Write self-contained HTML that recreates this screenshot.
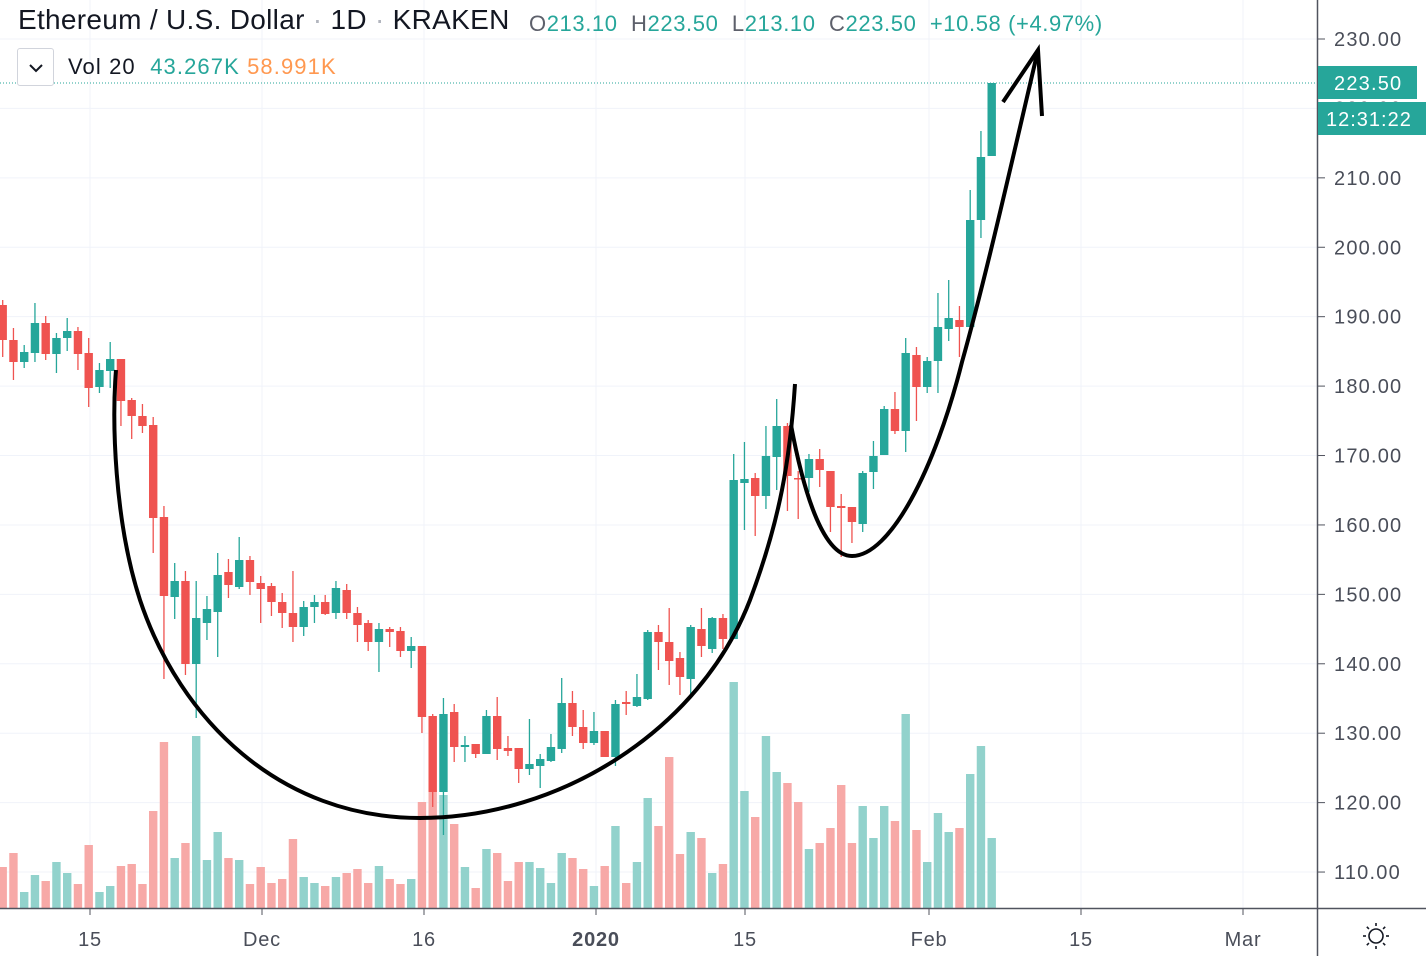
<!DOCTYPE html>
<html><head><meta charset="utf-8"><style>
html,body{margin:0;padding:0;background:#fff;}
body{width:1426px;height:956px;overflow:hidden;position:relative;font-family:"Liberation Sans","DejaVu Sans",sans-serif;}
svg{position:absolute;left:0;top:0;}
.t{position:absolute;white-space:nowrap;}
</style></head><body>
<svg id="s" width="1426" height="956" xmlns="http://www.w3.org/2000/svg"></svg>
<div class="t" style="left:18px;top:4px;font-size:28px;letter-spacing:0.3px;color:#131722;">Ethereum / U.S. Dollar <span style="color:#b2b5be">·</span> 1D <span style="color:#b2b5be">·</span> KRAKEN</div>
<div class="t" style="left:529px;top:11px;font-size:22px;letter-spacing:0.6px;color:#26a69a;"><span style="color:#5d606b">O</span>213.10&nbsp; <span style="color:#5d606b">H</span>223.50&nbsp; <span style="color:#5d606b">L</span>213.10&nbsp; <span style="color:#5d606b">C</span>223.50&nbsp; +10.58 (+4.97%)</div>
<div class="t" style="left:17px;top:48px;width:35px;height:36px;border:1px solid #d1d4dc;border-radius:3px;background:#fff;"><svg width="35" height="36" style="position:absolute;left:0;top:0"><path d="M12,16 L18,22 L24,16" fill="none" stroke="#131722" stroke-width="2"/></svg></div>
<div class="t" style="left:68px;top:54px;font-size:22px;letter-spacing:1.1px;color:#131722;">Vol 20&nbsp; <span style="color:#26a69a">43.267K</span> <span style="color:#ff9850">58.991K</span></div>
<script>
var s=document.getElementById('s');var h='';
var G='#26a69a',R='#ef5350';
for(var p=0;p<=12;p++){var y=39+p*69.42;h+='<line x1="0" x2="1318" y1="'+y+'" y2="'+y+'" stroke="#f0f3fa" stroke-width="1"/>';}
[90,262,424,596,745,929,1081,1243].forEach(function(x){h+='<line x1="'+x+'" x2="'+x+'" y1="0" y2="908" stroke="#f0f3fa" stroke-width="1"/>';});
var C=[['r',305,340,300,357],['r',340,362,328,380],['g',352,362,345,368],['g',323,353,303,362],['r',323,354,316,360],['g',338,354,333,373],['g',331,338,318,351],['r',331,354,327,370],['r',353,388,338,407],['g',370,387,363,393],['g',359,371,342,388],['r',359,401,359,426],['r',400,416,398,439],['r',416,426,404,433],['r',425,518,417,553],['r',517,596,506,679],['g',581,597,563,619],['r',581,664,571,675],['g',618,664,581,718],['g',609,623,596,640],['g',575,612,553,657],['r',572,585,559,598],['g',560,587,537,589],['r',560,582,556,595],['r',583,589,576,623],['r',586,602,583,616],['r',602,613,593,628],['r',613,627,571,642],['g',607,627,601,636],['g',602,607,595,623],['r',602,614,595,615],['g',588,613,581,619],['r',590,613,584,619],['r',613,625,607,642],['r',623,642,620,651],['g',629,642,623,672],['r',629,632,627,647],['r',631,651,627,657],['g',646,651,637,668],['r',646,717,646,733],['r',716,792,714,807],['g',714,792,698,835],['r',712,747,704,762],['g',745,747,736,762],['r',744,754,744,758],['g',716,754,710,754],['r',716,749,697,760],['r',748,751,736,756],['r',748,769,748,783],['g',764,769,719,775],['g',759,766,754,788],['g',747,761,734,762],['g',703,749,678,753],['r',703,727,691,736],['r',727,743,710,749],['g',731,743,712,745],['r',731,757,731,757],['g',704,757,700,766],['r',702,704,691,715],['g',697,706,674,707],['g',632,699,630,700],['r',632,642,625,670],['r',642,661,608,685],['r',658,677,652,695],['g',627,679,625,698],['r',629,646,608,657],['g',618,649,617,653],['r',618,639,614,649],['g',480,639,454,639],['g',479,483,442,530],['r',478,496,473,536],['g',456,496,426,509],['g',426,457,399,490],['r',426,476,423,511],['r',478,479,471,519],['g',459,478,454,492],['r',459,470,449,487],['r',471,507,471,532],['r',506,508,494,557],['r',507,522,507,543],['g',473,524,471,532],['g',456,472,441,489],['g',409,455,406,455],['r',409,431,392,434],['g',353,431,338,452],['r',355,387,347,421],['g',361,387,357,393],['g',327,361,293,393],['g',318,329,280,341],['r',320,327,306,357],['g',220,327,190,327],['g',157,220,131,238],['g',83,156,83,156]];
var V=[867,853,892,875,881,862,873,884,845,892,886,866,864,884,811,742,858,843,736,860,832,858,860,884,867,883,879,839,877,883,886,877,873,869,883,866,879,884,879,802,790,795,824,867,888,849,853,881,862,862,868,883,853,858,869,886,866,826,883,862,798,826,757,854,832,838,873,864,682,791,817,736,772,783,802,849,843,828,785,843,806,838,806,821,714,830,862,813,832,828,774,746,838];
for(var i=0;i<C.length;i++){var x=2.7+i*10.75;var c=C[i][0]=='g';var vy=V[i]||900;
h+='<rect x="'+(x-4.2)+'" y="'+vy+'" width="8.4" height="'+(908-vy)+'" fill="'+(c?'#92d2cc':'#f7a9a7')+'"/>';}
for(var i=0;i<C.length;i++){var x=2.7+i*10.75;var d=C[i];var col=d[0]=='g'?G:R;
h+='<line x1="'+x+'" x2="'+x+'" y1="'+d[3]+'" y2="'+d[4]+'" stroke="'+col+'" stroke-width="1.3"/>';
h+='<rect x="'+(x-4.2)+'" y="'+d[1]+'" width="8.4" height="'+Math.max(1.5,d[2]-d[1])+'" fill="'+col+'"/>';}
h+='<line x1="0" x2="1318" y1="83" y2="83" stroke="#26a69a" stroke-width="1" stroke-dasharray="1,2"/>';
h+='<path d="M116,370 C112,420 114,520 140,600 C180,720 280,818 420,818 C560,818 700,730 750,600 C780,520 790,460 795,384" fill="none" stroke="#000" stroke-width="4"/>';
h+='<path d="M791,425 C805,500 825,556 852,556 C890,556 935,470 962,362 C985,280 1010,170 1038,50" fill="none" stroke="#000" stroke-width="4"/>';
h+='<path d="M1003,102 L1038,50 L1042,116" fill="none" stroke="#000" stroke-width="4"/>';
h+='<rect x="1318" y="0" width="108" height="956" fill="#fff"/>';
h+='<line x1="1317.5" x2="1317.5" y1="0" y2="956" stroke="#50535e" stroke-width="1.5"/>';
h+='<line x1="0" x2="1426" y1="908.5" y2="908.5" stroke="#50535e" stroke-width="1.5"/>';
for(var p=0;p<=12;p++){var y=39+p*69.42;var v=(230-p*10).toFixed(2);
h+='<line x1="1318" x2="1325" y1="'+y+'" y2="'+y+'" stroke="#50535e"/>';
h+='<text x="1334" y="'+(y+7)+'" font-size="20" letter-spacing="1.2" fill="#4a4e59" font-family="Liberation Sans, sans-serif">'+v+'</text>';}
h+='<rect x="1318" y="66" width="99" height="33" fill="#26a69a"/><text x="1334" y="90" font-size="20" letter-spacing="1.2" fill="#fff" font-family="Liberation Sans, sans-serif">223.50</text>';
h+='<rect x="1318" y="102" width="108" height="33" fill="#26a69a"/><text x="1326" y="126" font-size="20" letter-spacing="1" fill="#fff" font-family="Liberation Sans, sans-serif">12:31:22</text>';
var T=[[90,'15'],[262,'Dec'],[424,'16'],[596,'2020'],[745,'15'],[929,'Feb'],[1081,'15'],[1243,'Mar']];
T.forEach(function(t){h+='<line x1="'+t[0]+'" x2="'+t[0]+'" y1="909" y2="915" stroke="#50535e"/><text x="'+t[0]+'" y="946" text-anchor="middle" font-size="20" letter-spacing="0.8" fill="#4a4e59" '+(t[1]=='2020'?'font-weight="bold" ':'')+'font-family="Liberation Sans, sans-serif">'+t[1]+'</text>';});
h+='<circle cx="1376" cy="936" r="7" fill="none" stroke="#131722" stroke-width="1.6"/>';
for(var a=0;a<8;a++){var r=a*Math.PI/4;h+='<line x1="'+(1376+10*Math.cos(r))+'" y1="'+(936+10*Math.sin(r))+'" x2="'+(1376+13*Math.cos(r))+'" y2="'+(936+13*Math.sin(r))+'" stroke="#131722" stroke-width="1.6"/>';}
s.innerHTML=h;
</script>
</body></html>
